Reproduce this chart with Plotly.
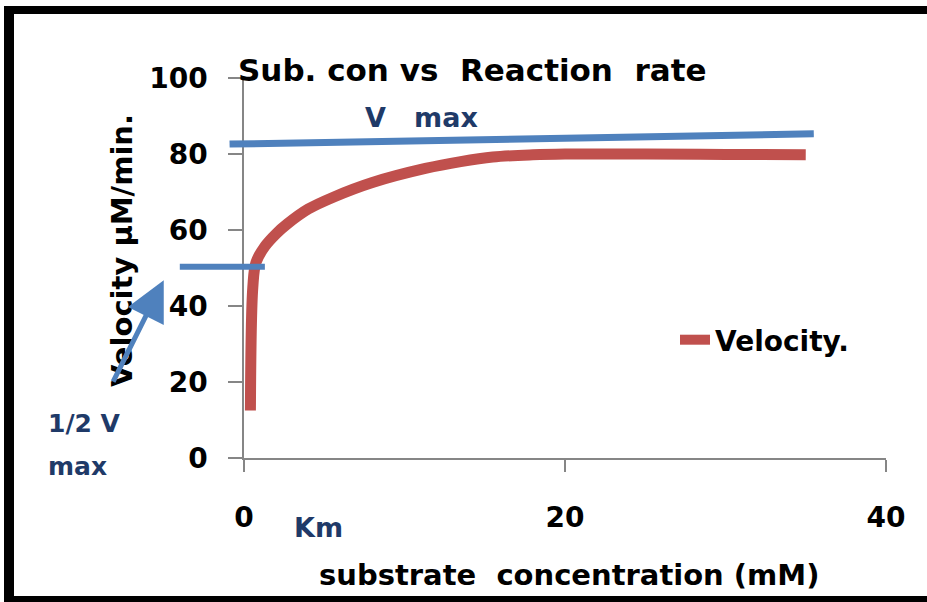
import plotly.graph_objects as go

# ---- data ----
substrate_mM = [0.4, 0.55, 0.75, 1.3, 2, 2.7, 4, 5.6, 8, 11.3, 13.5, 15.5, 18, 20, 25, 30, 35]
velocity = [12.5, 45, 51.5, 55.7, 59, 61.6, 65.5, 68.7, 72.5, 76.2, 78, 79.2, 79.8, 80, 80, 79.9, 79.8]
vmax_x = [-0.9, 35.5]
vmax_y = [82.6, 85.3]
half_vmax_x = [-4.0, 1.3]
half_vmax_y = [50.3, 50.3]
arrow_tail = (-8.2, 19.7)
arrow_head = (-5.0, 46.8)
x_ticks = [0, 20, 40]
y_ticks = [0, 20, 40, 60, 80, 100]

W, H = 927, 602
# plot area in pixels
PX0, PX1 = 244, 886
PY0, PY1 = 458, 78  # y=0 and y=100

FONT = "DejaVu Sans"
RED = "#C0504D"
BLUE = "#4F81BD"
NAVY = "#1F3A68"
AXC = "#868686"

ppx = (PX1 - PX0) / 40.0
ppy = (PY0 - PY1) / 100.0

fig = go.Figure()

fig.add_trace(go.Scatter(
    x=substrate_mM, y=velocity, mode="lines", name="Velocity.",
    line=dict(color=RED, width=11, shape="spline", smoothing=1.0),
    xaxis="x", yaxis="y", showlegend=True))

fig.add_trace(go.Scatter(
    x=vmax_x, y=vmax_y, mode="lines", line=dict(color=BLUE, width=7),
    xaxis="x2", yaxis="y2", showlegend=False, hoverinfo="skip"))
fig.add_trace(go.Scatter(
    x=half_vmax_x, y=half_vmax_y, mode="lines", line=dict(color=BLUE, width=6),
    xaxis="x2", yaxis="y2", showlegend=False, hoverinfo="skip"))

def px(x):
    return x / W

def py(y):
    return 1 - y / H

tickfont = dict(family=FONT, size=28, color="black", weight="bold")

fig.update_layout(
    template="none",
    width=W, height=H,
    margin=dict(l=0, r=0, t=0, b=0, pad=0),
    paper_bgcolor="white",
    plot_bgcolor="rgba(0,0,0,0)",
    xaxis=dict(domain=[px(PX0), px(PX1)], range=[0, 40], tickvals=x_ticks,
               ticks="outside", ticklen=12, tickcolor=AXC, tickwidth=1.5,
               showline=True, linecolor=AXC, linewidth=1.5,
               showgrid=False, zeroline=False, anchor="y", automargin=False,
               tickfont=tickfont, ticklabelstandoff=22, fixedrange=True),
    yaxis=dict(domain=[py(PY0), py(PY1)], range=[0, 100], tickvals=y_ticks,
               ticks="outside", ticklen=14, tickcolor=AXC, tickwidth=1.5,
               showline=True, linecolor=AXC, linewidth=1.5,
               showgrid=False, zeroline=False, anchor="x", automargin=False,
               tickfont=tickfont, ticklabelstandoff=15, fixedrange=True),
    xaxis2=dict(domain=[0, 1], range=[-PX0 / ppx, (W - PX0) / ppx],
                anchor="y2", visible=False, fixedrange=True, automargin=False),
    yaxis2=dict(domain=[0, 1], range=[-(H - PY0) / ppy, PY0 / ppy],
                anchor="x2", visible=False, fixedrange=True, automargin=False),
    showlegend=True,
    legend=dict(x=px(675), y=py(340), xanchor="left", yanchor="middle",
                bgcolor="rgba(0,0,0,0)", borderwidth=0,
                font=dict(family=FONT, size=28, color="black", weight="bold")),
)

ann = []
ann.append(dict(text="Sub. con vs\u00a0 Reaction\u00a0 rate", x=px(236), y=py(70),
                xref="paper", yref="paper", xanchor="left", yanchor="middle",
                showarrow=False, font=dict(family=FONT, size=31, color="black", weight="bold")))
ann.append(dict(text="substrate\u00a0 concentration (mM)", x=px(569), y=py(575),
                xref="paper", yref="paper", xanchor="center", yanchor="middle",
                showarrow=False, font=dict(family=FONT, size=29, color="black", weight="bold")))
ann.append(dict(text="Velocity \u03bcM/min.", x=px(122), y=py(251),
                xref="paper", yref="paper", xanchor="center", yanchor="middle",
                textangle=-90, showarrow=False,
                font=dict(family=FONT, size=29, color="black", weight="bold")))
ann.append(dict(text="V\u00a0\u00a0 max", x=px(363), y=py(117),
                xref="paper", yref="paper", xanchor="left", yanchor="middle",
                showarrow=False, font=dict(family=FONT, size=27, color=NAVY, weight="bold")))
ann.append(dict(text="1/2 V", x=px(46), y=py(423),
                xref="paper", yref="paper", xanchor="left", yanchor="middle",
                showarrow=False, font=dict(family=FONT, size=25, color=NAVY, weight="bold")))
ann.append(dict(text="max", x=px(46), y=py(466),
                xref="paper", yref="paper", xanchor="left", yanchor="middle",
                showarrow=False, font=dict(family=FONT, size=25, color=NAVY, weight="bold")))
ann.append(dict(text="Km", x=px(292), y=py(527),
                xref="paper", yref="paper", xanchor="left", yanchor="middle",
                showarrow=False, font=dict(family=FONT, size=27, color=NAVY, weight="bold")))
# arrow pointing to half Vmax
ann.append(dict(text="", x=arrow_head[0], y=arrow_head[1], xref="x2", yref="y2",
                ax=arrow_tail[0], ay=arrow_tail[1], axref="x2", ayref="y2",
                showarrow=True, arrowhead=2, arrowsize=1.6, arrowwidth=5,
                arrowcolor=BLUE))
fig.update_layout(annotations=ann)

# image frame (black border on top, left, bottom)
shapes = [
    dict(type="rect", xref="paper", yref="paper", x0=px(4), x1=1, y0=py(14), y1=py(6),
         fillcolor="black", line=dict(width=0), layer="above"),
    dict(type="rect", xref="paper", yref="paper", x0=px(4), x1=px(14), y0=0, y1=py(6),
         fillcolor="black", line=dict(width=0), layer="above"),
    dict(type="rect", xref="paper", yref="paper", x0=px(4), x1=1, y0=0, y1=py(596),
         fillcolor="black", line=dict(width=0), layer="above"),
]
fig.update_layout(shapes=shapes)

fig.write_html("out.html")
